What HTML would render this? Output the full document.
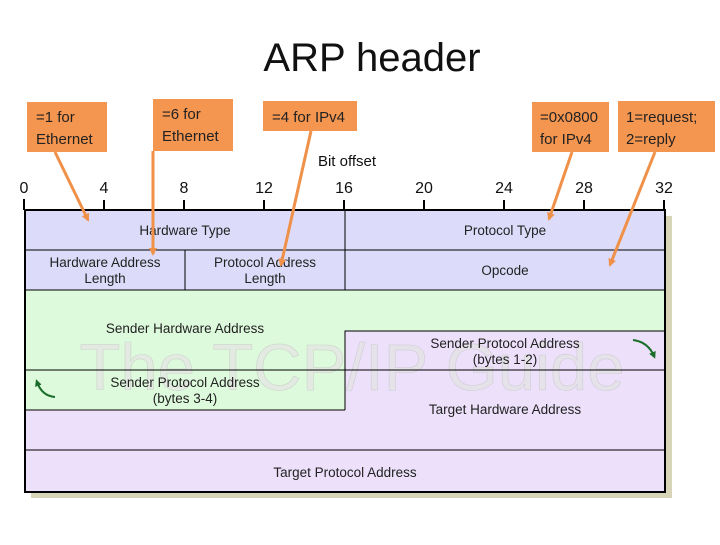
<!DOCTYPE html>
<html><head><meta charset="utf-8"><style>
body{margin:0;width:720px;height:540px;background:#fff;overflow:hidden;font-family:"Liberation Sans",sans-serif}
</style></head><body>
<svg width="720" height="540" xmlns="http://www.w3.org/2000/svg" font-family="Liberation Sans, sans-serif">
<defs><marker id="ah" markerWidth="8" markerHeight="8" refX="6" refY="4" orient="auto" markerUnits="userSpaceOnUse"><path d="M0,0 L8,4 L0,8 z" fill="#f0914a"/></marker>
<marker id="gh" markerWidth="7" markerHeight="7" refX="4" refY="3.5" orient="auto" markerUnits="userSpaceOnUse"><path d="M0,0 L7,3.5 L0,7 z" fill="#1a6e2a"/></marker></defs>
<text x="372" y="71" font-size="40" text-anchor="middle" fill="#111">ARP header</text>
<text x="347" y="166" font-size="15" text-anchor="middle" fill="#111">Bit offset</text>
<g font-size="16" fill="#111" text-anchor="middle">
<text x="24" y="193">0</text><text x="104" y="193">4</text><text x="184" y="193">8</text><text x="264" y="193">12</text><text x="344" y="193">16</text><text x="424" y="193">20</text><text x="504" y="193">24</text><text x="584" y="193">28</text><text x="664" y="193">32</text></g>
<g stroke="#000" stroke-width="2"><line x1="24" y1="199" x2="24" y2="210"/><line x1="104" y1="200" x2="104" y2="210"/><line x1="184" y1="200" x2="184" y2="210"/><line x1="264" y1="200" x2="264" y2="210"/><line x1="344" y1="200" x2="344" y2="210"/><line x1="424" y1="200" x2="424" y2="210"/><line x1="504" y1="200" x2="504" y2="210"/><line x1="584" y1="200" x2="584" y2="210"/><line x1="664" y1="200" x2="664" y2="210"/></g>
<rect x="31" y="216" width="641" height="282" fill="#d8d4b8"/>
<rect x="25" y="210" width="640" height="80" fill="#dcdcfa"/>
<rect x="25" y="290" width="640" height="202" fill="#ece0fa"/>
<path d="M25,290 H665 V331 H345 V410 H25 Z" fill="#defadc"/>
<text x="352" y="390" font-size="66" text-anchor="middle" fill="#e4e4e4" opacity="0.7" stroke="#c4c4c4" stroke-width="0.6" textLength="545" lengthAdjust="spacingAndGlyphs">The TCP/IP Guide</text>
<g stroke="#000" stroke-width="1" fill="none">
<line x1="25" y1="250" x2="665" y2="250"/><line x1="25" y1="290" x2="665" y2="290"/>
<line x1="345" y1="210" x2="345" y2="290"/><line x1="185" y1="250" x2="185" y2="290"/>
<path d="M345,410 V331 H665"/><line x1="25" y1="370" x2="665" y2="370"/><line x1="25" y1="410" x2="345" y2="410"/>
<line x1="25" y1="450" x2="665" y2="450"/></g>
<rect x="25" y="210" width="640" height="282" fill="none" stroke="#000" stroke-width="2"/>
<g font-size="13.5" fill="#222" text-anchor="middle">
<text x="185" y="235">Hardware Type</text><text x="505" y="235">Protocol Type</text>
<text x="105" y="267">Hardware Address</text><text x="105" y="283">Length</text>
<text x="265" y="267">Protocol Address</text><text x="265" y="283">Length</text>
<text x="505" y="275">Opcode</text>
<text x="185" y="333">Sender Hardware Address</text>
<text x="505" y="348">Sender Protocol Address</text><text x="505" y="364">(bytes 1-2)</text>
<text x="185" y="387">Sender Protocol Address</text><text x="185" y="403">(bytes 3-4)</text>
<text x="505" y="414">Target Hardware Address</text>
<text x="345" y="477">Target Protocol Address</text></g>
<path d="M633,340 Q648,342 654,356" stroke="#1a6e2a" stroke-width="2" fill="none" marker-end="url(#gh)"/>
<path d="M55,397 Q42,396 37,382" stroke="#1a6e2a" stroke-width="2" fill="none" marker-end="url(#gh)"/>
<g fill="#f59650">
<rect x="27" y="102" width="80" height="50"/><rect x="153" y="99" width="80" height="52"/><rect x="263" y="101" width="94" height="30"/><rect x="532" y="102" width="77" height="50"/><rect x="618" y="101" width="97" height="51"/></g>
<g font-size="15" fill="#222">
<text x="36" y="122">=1 for</text><text x="36" y="144">Ethernet</text>
<text x="162" y="119">=6 for</text><text x="162" y="141">Ethernet</text>
<text x="272" y="122">=4 for IPv4</text>
<text x="540" y="122">=0x0800</text><text x="540" y="144">for IPv4</text>
<text x="626" y="122">1=request;</text><text x="626" y="144"> 2=reply</text></g>
<g stroke="#f0914a" stroke-width="3" marker-end="url(#ah)">
<line x1="55" y1="152" x2="88" y2="220"/><line x1="153" y1="151" x2="153" y2="254"/><line x1="311" y1="131" x2="281" y2="265"/><line x1="572" y1="152" x2="549" y2="219"/><line x1="655" y1="152" x2="610" y2="265"/></g>
</svg>
</body></html>
